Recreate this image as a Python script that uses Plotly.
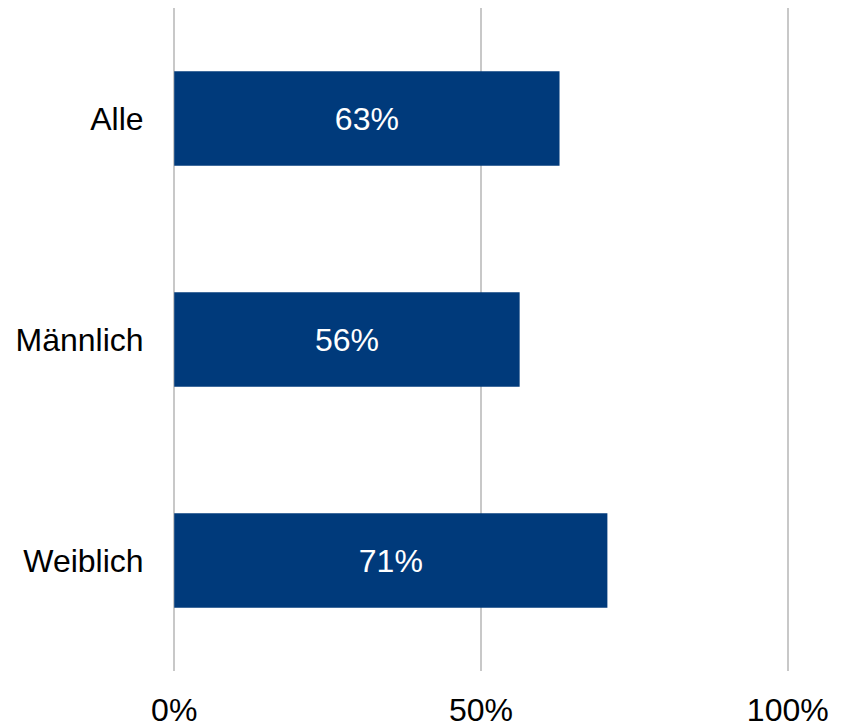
import plotly.graph_objects as go

categories = ["Alle", "Männlich", "Weiblich"]
values = [62.8, 56.3, 70.6]
value_labels = ["63%", "56%", "71%"]
tick_values = [0, 50, 100]
tick_labels = ["0%", "50%", "100%"]

FONT = "Liberation Sans, Arial, sans-serif"

fig = go.Figure(
    go.Bar(
        y=categories,
        x=values,
        orientation="h",
        width=0.428,
        marker=dict(color="#003A7B", line=dict(width=0)),
        text=value_labels,
        textposition="inside",
        insidetextanchor="middle",
        textangle=0,
        textfont=dict(family=FONT, size=32, color="white"),
        hoverinfo="skip",
    )
)

fig.update_layout(
    width=844,
    height=728,
    margin=dict(l=165, r=63, t=0, b=65),
    paper_bgcolor="white",
    plot_bgcolor="white",
    showlegend=False,
    uniformtext=dict(minsize=10, mode="show"),
)

fig.update_xaxes(
    range=[-0.2, 100.2],
    tickvals=tick_values,
    ticktext=tick_labels,
    showgrid=True,
    gridcolor="#C8C8C8",
    gridwidth=2,
    zeroline=False,
    showline=False,
    ticks="outside",
    ticklen=11,
    tickcolor="rgba(0,0,0,0)",
    tickfont=dict(family=FONT, size=32, color="#000000"),
    fixedrange=True,
)

fig.update_yaxes(
    autorange="reversed",
    showgrid=False,
    zeroline=False,
    showline=False,
    ticks="outside",
    ticklen=22,
    tickcolor="rgba(0,0,0,0)",
    tickfont=dict(family=FONT, size=32, color="#000000"),
    fixedrange=True,
)

fig.write_html("out.html")
